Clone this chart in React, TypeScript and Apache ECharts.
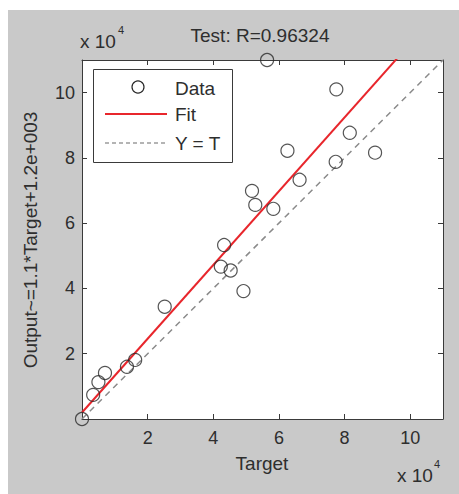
import React, { useEffect, useRef } from "react";
import * as echarts from "echarts";

// values in units of 10^4
const targetValues = [0, 0.34, 0.5, 0.7, 1.37, 1.62, 2.52, 4.23, 4.53, 4.33, 4.92, 5.18, 5.28, 5.83, 6.26, 6.63, 7.73, 8.16, 8.93, 7.75, 5.64];
const outputValues = [0, 0.74, 1.13, 1.41, 1.6, 1.81, 3.44, 4.67, 4.55, 5.33, 3.92, 6.99, 6.56, 6.44, 8.22, 7.33, 7.88, 8.77, 8.16, 10.1, 11.0];
const fitX = [0, 11];
const fitY = [0.2, 12.63];
const identityX = [0, 11];
const identityY = [0, 11];
const tickValues = [2, 4, 6, 8, 10];
const titleText = "Test: R=0.96324";
const xLabel = "Target";
const yLabel = "Output~=1.1*Target+1.2e+003";
const legendLabels = ["Data", "Fit", "Y = T"];

const FONT = "'Liberation Sans', Arial, sans-serif";
const TXT = "#2e2e2e";
const FRAME = "#3a3a3a";

export default function App() {
  const ref = useRef<HTMLDivElement>(null);
  useEffect(() => {
    if (!ref.current) return;
    const chart = echarts.init(ref.current, undefined, { renderer: "svg" });
    const fmt = (v: number) => (tickValues.includes(v) ? String(v) : "");
    const baseAxis = {
      type: "value" as const,
      min: 0,
      max: 11,
      interval: 2,
      splitLine: { show: false },
      axisLine: { show: true, onZero: false, lineStyle: { color: FRAME, width: 1 } },
      axisTick: { show: true, inside: true, length: 5, lineStyle: { color: FRAME } },
    };
    const scatterData = targetValues.map((x, i) => [x, outputValues[i]]);
    chart.setOption({
      animation: false,
      backgroundColor: "#c9c9c9",
      grid: { left: 74, top: 50, right: 16, bottom: 75, show: true, backgroundColor: "#ffffff", borderWidth: 0 },
      xAxis: [
        { ...baseAxis, position: "bottom", axisLabel: { formatter: fmt, margin: 10, fontSize: 18, color: TXT, fontFamily: FONT, showMinLabel: false, showMaxLabel: false } },
        { ...baseAxis, position: "top", axisLabel: { show: false } },
      ],
      yAxis: [
        { ...baseAxis, position: "left", axisLabel: { formatter: fmt, margin: 7, fontSize: 18, color: TXT, fontFamily: FONT, showMinLabel: false, showMaxLabel: false } },
        { ...baseAxis, position: "right", axisLabel: { show: false } },
      ],
      series: [
        {
          type: "line",
          data: identityX.map((x, i) => [x, identityY[i]]),
          symbol: "none",
          lineStyle: { color: "#8a8a8a", width: 1.5, type: [6, 5] },
          z: 2,
        },
        {
          type: "line",
          data: fitX.map((x, i) => [x, fitY[i]]),
          symbol: "none",
          lineStyle: { color: "#e8262c", width: 2 },
          clip: true,
          z: 3,
        },
        {
          type: "scatter",
          data: scatterData,
          symbol: "circle",
          symbolSize: 13,
          clip: false,
          itemStyle: { color: "rgba(0,0,0,0)", borderColor: "#2a2a2a", borderWidth: 1.2 },
          z: 4,
        },
      ],
      graphic: [
        { type: "text", x: 252, y: 25, style: { text: titleText, fontSize: 19, fontFamily: FONT, fill: TXT, align: "center", verticalAlign: "middle" } },
        { type: "text", x: 72, y: 31, style: { text: "x 10", fontSize: 19, fontFamily: FONT, fill: TXT, align: "left", verticalAlign: "middle" } },
        { type: "text", x: 110, y: 20, style: { text: "4", fontSize: 11, fontFamily: FONT, fill: TXT, align: "left", verticalAlign: "middle" } },
        { type: "text", x: 254, y: 453, style: { text: xLabel, fontSize: 19, fontFamily: FONT, fill: TXT, align: "center", verticalAlign: "middle" } },
        { type: "text", x: 389, y: 465, style: { text: "x 10", fontSize: 19, fontFamily: FONT, fill: TXT, align: "left", verticalAlign: "middle" } },
        { type: "text", x: 426, y: 454, style: { text: "4", fontSize: 11, fontFamily: FONT, fill: TXT, align: "left", verticalAlign: "middle" } },
        { type: "text", x: 22, y: 230, rotation: Math.PI / 2, style: { text: yLabel, fontSize: 19, fontFamily: FONT, fill: TXT, align: "center", verticalAlign: "middle" } },
        {
          type: "group",
          z: 100,
          children: [
            { type: "rect", shape: { x: 85.5, y: 59.5, width: 139, height: 93 }, style: { fill: "#ffffff", stroke: FRAME, lineWidth: 1 } },
            { type: "circle", shape: { cx: 130, cy: 77, r: 6 }, style: { fill: "none", stroke: "#2a2a2a", lineWidth: 1.2 } },
            { type: "text", x: 167, y: 78, style: { text: legendLabels[0], fontSize: 19, fontFamily: FONT, fill: TXT, align: "left", verticalAlign: "middle" } },
            { type: "line", shape: { x1: 97, y1: 104, x2: 159, y2: 104 }, style: { stroke: "#e8262c", lineWidth: 2 } },
            { type: "text", x: 167, y: 104, style: { text: legendLabels[1], fontSize: 19, fontFamily: FONT, fill: TXT, align: "left", verticalAlign: "middle" } },
            { type: "line", shape: { x1: 97, y1: 133, x2: 159, y2: 133 }, style: { stroke: "#6a6a6a", lineWidth: 1.2, lineDash: [4, 3] } },
            { type: "text", x: 167, y: 133, style: { text: legendLabels[2], fontSize: 19, fontFamily: FONT, fill: TXT, align: "left", verticalAlign: "middle" } },
          ],
        },
      ],
    });
    return () => chart.dispose();
  }, []);
  return <div ref={ref} style={{ position: "absolute", left: 8, top: 10, width: 451, height: 484 }} />;
}
